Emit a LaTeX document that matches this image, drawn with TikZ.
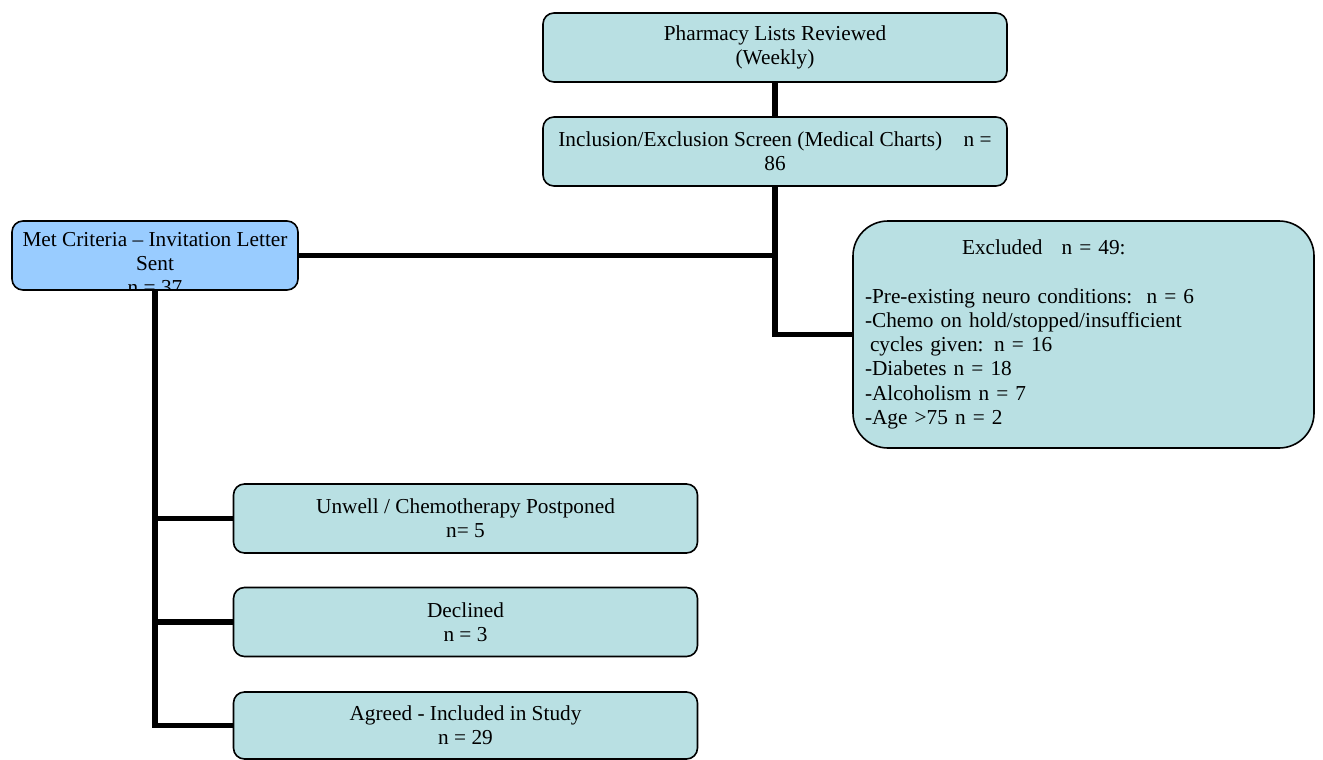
\documentclass[tikz,border=0pt]{standalone}
\usepackage{fontspec}
\setmainfont{Liberation Serif}
\definecolor{boxfill}{RGB}{185,224,227}
\definecolor{metfill}{RGB}{153,204,255}
\begin{document}
\begin{tikzpicture}[x=1pt,y=-1pt,
  txt/.style={font=\fontsize{21.3}{24.2}\selectfont},
  box/.style={txt, draw=black, line width=1.6pt, rounded corners=11pt, fill=boxfill,
    minimum width=464pt, minimum height=69pt, inner sep=0pt, align=center},
  conn/.style={draw=black, line width=5.6pt, line join=miter}]
\useasboundingbox (0,0) rectangle (1323,760);

\node[box] (pharm) at (775,47.5) {Pharmacy Lists Reviewed\\(Weekly)};
\node[box] (incl) at (775,151.5) {Inclusion/Exclusion Screen (Medical Charts)\hspace{16pt} n =\\86};
\node[box, fill=metfill, minimum width=286pt, minimum height=69pt,
  path picture={\node[txt, anchor=north, inner sep=0pt, align=center] (mettext)
    at ([yshift=-7pt]path picture bounding box.north)
    {Met Criteria – Invitation Letter\\Sent\\n = 37};}] (met) at (155,255.5) {};
\node[box, minimum width=461pt, minimum height=227pt, rounded corners=35pt,
  text width=437pt, align=left] (excl) at (1083.5,334.5)
  {\hspace*{97pt}Excluded\hspace{12pt} n = 49:\\[24.2pt]
   -Pre-existing neuro conditions:\ \ n = 6\\
   -Chemo on hold/stopped/insufficient\\
   \hspace*{5pt}cycles given: n = 16\\
   -Diabetes n = 18\\
   -Alcoholism n = 7\\
   -Age >75 n = 2};
\node[box] (unwell) at (465.5,518.5) {Unwell / Chemotherapy Postponed\\n= 5};
\node[box] (decl) at (465.5,622) {Declined\\n = 3};
\node[box, minimum height=67pt] (agreed) at (465.5,725.5) {Agreed - Included in Study\\n = 29};

\draw[conn] (pharm.south) -- (incl.north);
\draw[conn] (incl.south) |- (excl.west);
\draw[conn] (met.east) -- (met.east -| incl.south);
\draw[conn] (met.south) |- (agreed.west);
\draw[conn] (met.south |- unwell.west) -- (unwell.west);
\draw[conn] (met.south |- decl.west) -- (decl.west);
\end{tikzpicture}
\end{document}
